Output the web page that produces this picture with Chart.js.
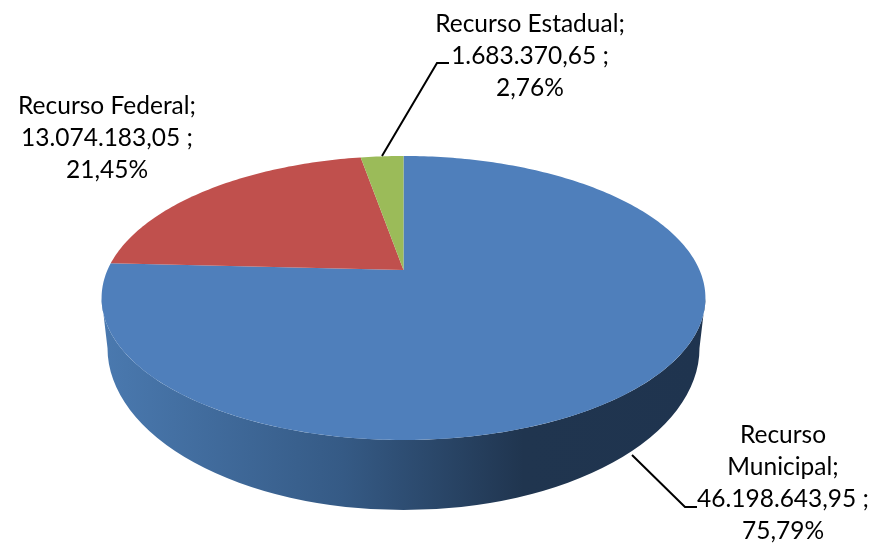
<!DOCTYPE html>
<html>
<head>
<meta charset="utf-8">
<title>Recursos</title>
<script src="https://cdn.jsdelivr.net/npm/chart.js@4"></script>
<style>
    html, body { margin: 0; padding: 0; background: #ffffff; }
    canvas { display: block; }
</style>
</head>
<body>
<canvas id="chartRecursos" width="871" height="543"></canvas>
<script>
var categorias = ['Recurso Municipal', 'Recurso Federal', 'Recurso Estadual'];
var valores = [46198643.95, 13074183.05, 1683370.65];
var cores = ['#4f7fbb', '#c0504d', '#9bbb59'];

var rotuloMunicipal = ['Recurso', 'Municipal;', '46.198.643,95 ;', '75,79%'];
var rotuloFederal = ['Recurso Federal;', '13.074.183,05 ;', '21,45%'];
var rotuloEstadual = ['Recurso Estadual;', '1.683.370,65 ;', '2,76%'];

// tampa da pizza em perspectiva: o vertice nao fica no centro da elipse
var tampa = { x: 403.5, y: 270, a: 296, h: 136.5, k: 0.197 };
var base = { x: 403.5, y: 348, rx: 296, ry: 162 };

function projetar(ang) {
    var u = Math.cos(ang);
    var v = -Math.sin(ang);
    var w = 1 + tampa.k * v;
    return { x: tampa.x + tampa.a * u / w, y: tampa.y - tampa.h * v / w };
}

var pizza3d = {
    id: 'pizza3d',
    beforeDatasetDraw: function (chart, args) {
        var ctx = chart.ctx;

        // parede lateral, da ponta direita ate a ponta esquerda da tampa
        var grad = ctx.createLinearGradient(tampa.x - 300, 0, tampa.x + 300, 0);
        grad.addColorStop(0, '#4a79af');
        grad.addColorStop(0.4, '#355a85');
        grad.addColorStop(0.7, '#20354f');
        grad.addColorStop(1, '#1f344f');
        var ini = Math.asin(tampa.k);
        ctx.save();
        ctx.fillStyle = grad;
        ctx.beginPath();
        for (var n = 0; n <= 120; n++) {
            var r = projetar(ini + (Math.PI - 2 * ini) * n / 120);
            if (n === 0) { ctx.moveTo(r.x, r.y); } else { ctx.lineTo(r.x, r.y); }
        }
        ctx.lineTo(base.x - base.rx, base.y);
        ctx.ellipse(base.x, base.y, base.rx, base.ry, 0, Math.PI, 0, true);
        ctx.closePath();
        ctx.fill();

        // fatias a partir dos angulos calculados pelo Chart.js
        args.meta.data.forEach(function (arc, i) {
            var p = arc.getProps(['startAngle', 'endAngle'], true);
            var passos = Math.max(2, Math.ceil((p.endAngle - p.startAngle) * 60));
            ctx.beginPath();
            ctx.moveTo(tampa.x, tampa.y);
            for (var s = 0; s <= passos; s++) {
                var q = projetar(p.startAngle + (p.endAngle - p.startAngle) * s / passos);
                ctx.lineTo(q.x, q.y);
            }
            ctx.closePath();
            ctx.fillStyle = cores[i];
            ctx.fill();
        });
        ctx.restore();
        return false;
    },
    afterDatasetsDraw: function (chart) {
        var ctx = chart.ctx;
        ctx.save();

        ctx.strokeStyle = '#000000';
        ctx.lineWidth = 2;
        ctx.beginPath();
        ctx.moveTo(382, 156);
        ctx.lineTo(437, 63);
        ctx.lineTo(449, 63);
        ctx.moveTo(632, 455);
        ctx.lineTo(685, 507);
        ctx.lineTo(697, 507);
        ctx.stroke();

        ctx.fillStyle = '#000000';
        ctx.font = '24.5px Lato, "Open Sans", sans-serif';
        ctx.textAlign = 'center';
        ctx.textBaseline = 'alphabetic';
        rotuloEstadual.forEach(function (t, i) { ctx.fillText(t, 530, 32 + i * 32); });
        rotuloFederal.forEach(function (t, i) { ctx.fillText(t, 107, 114 + i * 32); });
        rotuloMunicipal.forEach(function (t, i) { ctx.fillText(t, 783, 443 + i * 32); });
        ctx.restore();
    }
};

new Chart(document.getElementById('chartRecursos').getContext('2d'), {
    type: 'pie',
    data: {
        labels: categorias,
        datasets: [{
            data: valores,
            backgroundColor: cores,
            borderWidth: 0
        }]
    },
    options: {
        responsive: false,
        animation: false,
        events: [],
        plugins: {
            legend: { display: false },
            tooltip: { enabled: false }
        }
    },
    plugins: [pizza3d]
});
</script>
</body>
</html>
